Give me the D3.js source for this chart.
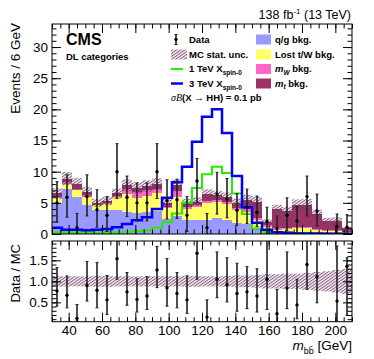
<!DOCTYPE html>
<html>
<head>
<meta charset="utf-8">
<script src="https://cdn.jsdelivr.net/npm/d3@7"></script>
<style>
  body { margin: 0; background: #fff; }
  svg { display: block; }
  text { font-family: "Liberation Sans", Arial, sans-serif; }
</style>
</head>
<body>
<div id="chart"></div>
<script>
// bins of m_bb (GeV), 6 GeV wide
const binLow = [30, 36, 42, 48, 54, 60, 66, 72, 78, 84, 90, 96, 102, 108, 114,
                120, 126, 132, 138, 144, 150, 156, 162, 168, 174, 180, 186, 192, 198, 204];
const binWidth = 6;

// stacked backgrounds
const qgBkg   = [5.0, 7.3, 5.9, 4.7, 3.9, 3.9, 3.8, 3.6, 3.4, 3.5, 3.7, 2.4, 2.9, 2.2, 2.3,
                 2.2, 2.5, 2.2, 1.8, 1.6, 1.0, 0.6, 0.3, 0.3, 0.3, 0.3, 0.2, 0.2, 0.2, 0.1];
const lostBkg = [0.8, 0.8, 1.1, 1.2, 0.7, 0.9, 2.1, 2.8, 2.4, 2.6, 2.8, 1.7, 3.0, 1.8, 2.0,
                 2.7, 2.6, 2.6, 2.0, 1.9, 1.2, 0.6, 0.4, 0.5, 0.6, 0.6, 0.4, 0.3, 0.3, 0.2];
const mwBkg   = [0.2, 0.2, 0.3, 0.3, 0.1, 0.1, 0.2, 0.8, 1.0, 0.9, 0.8, 0.3, 1.0, 0.4, 0.3,
                 0.4, 0.3, 0.3, 0.3, 0.5, 0.4, 0.2, 0.2, 0.2, 0.2, 0.2, 0.2, 0.1, 0.1, 0.1];
const mtBkg   = [0.5, 0.6, 0.7, 0.5, 0.3, 0.4, 0.4, 0.6, 0.6, 0.7, 0.7, 0.6, 0.9, 0.6, 0.6,
                 1.1, 0.8, 0.8, 0.9, 1.5, 2.6, 0.6, 3.1, 2.7, 3.6, 3.6, 2.4, 1.5, 1.5, 0.5];
// relative MC stat. uncertainty
const mcStatUnc = [0.13, 0.12, 0.12, 0.12, 0.13, 0.13, 0.12, 0.12, 0.12, 0.12, 0.12, 0.13, 0.12, 0.13, 0.13,
                   0.12, 0.12, 0.13, 0.14, 0.14, 0.15, 0.17, 0.17, 0.18, 0.18, 0.20, 0.22, 0.24, 0.27, 0.30];

// signals (sigma*B = 0.1 pb)
const sig1TeV = [0.25, 0.25, 0.25, 0.25, 0.25, 0.25, 0.25, 0.3, 0.45, 0.6, 1.0, 1.9, 3.3, 5.0, 7.4,
                 9.6, 10.8, 9.8, 6.5, 3.2, 0.9, 0.3, 0.2, 0.2, 0.15, 0.1, 0.1, 0.1, 0.1, 0.1];
const sig3TeV = [1.0, 0.7, 0.7, 0.6, 0.7, 0.8, 1.1, 1.6, 2.2, 2.7, 4.0, 5.8, 8.3, 10.8, 14.8,
                 18.8, 20.0, 16.2, 9.3, 4.3, 1.8, 0.7, 0.3, 0.2, 0.1, 0.1, 0.1, 0.05, 0.05, 0.05];

// data
const dataVal = [5.0, 5.9, 1.0, 6.0, 3.9, 3.0, 10.0, 5.9, 5.0, 5.0, 10.0, 5.4, 5.5, 3.0, 8.5,
                 1.0, 6.4, 5.6, 3.8, 4.3, 3.5, 2.0, 0.9, 3.0, 2.1, 6.0, 3.7, 0, 1.2, 1.1];
const dataErrHi = [3.4, 3.6, 2.3, 3.5, 3.2, 3.0, 4.5, 3.4, 3.2, 3.2, 4.5, 3.3, 3.3, 3.0, 3.6,
                   2.3, 3.5, 3.3, 2.7, 2.9, 2.6, 2.3, 2.0, 2.8, 2.3, 3.3, 2.7, 0, 2.0, 2.0];
const dataErrLo = [3.1, 3.2, 1.0, 3.1, 2.8, 2.6, 4.3, 3.1, 2.9, 2.9, 4.3, 3.0, 3.0, 2.6, 3.4,
                   1.0, 3.2, 3.0, 2.4, 2.6, 2.3, 1.9, 0.9, 2.5, 1.9, 3.1, 2.4, 0, 1.2, 1.1];

// ratio data / MC (null = not shown)
const ratioVal  = [0.77, 0.67, 0.12, 0.90, 0.79, 0.56, 1.54, 0.75, 0.57, 0.65, 1.27, 0.85, 0.71, 0.56, 1.67,
                   0.15, 1.05, 0.92, 0.71, 0.75, 0.65, 1.05, 0.23, 0.84, 0.44, 1.40, 1.11, null, 0.53, 1.36];
const ratioHiEnd = [1.33, 1.13, 0.45, 1.47, 1.45, 1.14, 2.3, 1.21, 1.06, 1.11, 1.83, 1.54, 1.21, 1.13, 2.3,
                    0.56, 1.70, 1.56, 1.43, 1.35, 1.30, 2.3, 0.81, 1.70, 1.05, 2.3, 2.3, null, 1.84, 1.56];
const ratioLoEnd = [0.41, 0.37, 0.06, 0.53, 0.37, 0.21, 1.05, 0.43, 0.27, 0.33, 0.85, 0.41, 0.37, 0.24, 1.05,
                    0.0, 0.61, 0.51, 0.29, 0.35, 0.27, 0.33, 0.0, 0.35, 0.11, 0.81, 0.49, null, 0.0, 0.19];

const mainTicks = [0, 5, 10, 15, 20, 25, 30];
const ratioTicks = [0.5, 1, 1.5];
const xTicks = [40, 60, 80, 100, 120, 140, 160, 180, 200];

const colors = { qg: "#9999ff", lost: "#ffff66", mw: "#ff66cc", mt: "#993366",
                 hatch: "#6e3565", sig1: "#22ee00", sig3: "#0000ff" };

const width = 374, height = 359;
const left = 52, right = 352, mainTop = 24, mainBottom = 234, ratioTop = 241, ratioBottom = 321.7;

const x = d3.scaleLinear().domain([30, 210]).range([left, right]);
const y = d3.scaleLinear().domain([0, 33.7]).range([mainBottom, mainTop]);
const yr = d3.scaleLinear().domain([0.04, 1.96]).range([ratioBottom, ratioTop]);

const svg = d3.select("#chart").append("svg")
    .attr("width", width).attr("height", height);

const defs = svg.append("defs");
const pat = defs.append("pattern")
    .attr("id", "hatch").attr("patternUnits", "userSpaceOnUse")
    .attr("width", 2.4).attr("height", 2.4)
    .attr("patternTransform", "rotate(-35)");
pat.append("line").attr("x1", 0).attr("y1", 0.6).attr("x2", 2.4).attr("y2", 0.6)
    .attr("stroke", colors.hatch).attr("stroke-width", 0.9);

defs.append("clipPath").attr("id", "clipMain").append("rect")
    .attr("x", left).attr("y", mainTop).attr("width", right - left).attr("height", mainBottom - mainTop);
defs.append("clipPath").attr("id", "clipRatio").append("rect")
    .attr("x", left).attr("y", ratioTop).attr("width", right - left).attr("height", ratioBottom - ratioTop);

const bins = binLow.map((lo, i) => {
  const parts = [qgBkg[i], lostBkg[i], mwBkg[i], mtBkg[i]];
  return { lo: lo, hi: lo + binWidth, c: lo + binWidth / 2, parts: parts, total: d3.sum(parts) };
});

// ---- main panel ----
const gMain = svg.append("g").attr("clip-path", "url(#clipMain)");
const stackColors = [colors.qg, colors.lost, colors.mw, colors.mt];

bins.forEach(b => {
  let base = 0;
  b.parts.forEach((v, k) => {
    gMain.append("rect")
        .attr("x", x(b.lo)).attr("width", x(b.hi) - x(b.lo))
        .attr("y", y(base + v)).attr("height", y(base) - y(base + v))
        .attr("fill", stackColors[k]).attr("shape-rendering", "crispEdges");
    base += v;
  });
});

// MC stat. unc. band
bins.forEach((b, i) => {
  const u = mcStatUnc[i] * b.total;
  gMain.append("rect")
      .attr("x", x(b.lo)).attr("width", x(b.hi) - x(b.lo))
      .attr("y", y(b.total + u)).attr("height", y(b.total - u) - y(b.total + u))
      .attr("fill", "url(#hatch)");
});

// signal step lines
function stepPoints(vals) {
  const pts = [];
  bins.forEach((b, i) => { pts.push([x(b.lo), y(vals[i])]); pts.push([x(b.hi), y(vals[i])]); });
  return pts;
}
gMain.append("path").datum(stepPoints(sig1TeV))
    .attr("d", d3.line()).attr("fill", "none")
    .attr("stroke", colors.sig1).attr("stroke-width", 2);
gMain.append("path").datum(stepPoints(sig3TeV))
    .attr("d", d3.line()).attr("fill", "none")
    .attr("stroke", colors.sig3).attr("stroke-width", 2.5);

// data points
function drawPoint(g, cx, cy, top, bottom) {
  g.append("line").attr("x1", cx).attr("x2", cx).attr("y1", top).attr("y2", bottom)
      .attr("stroke", "#222").attr("stroke-width", 1.6);
  [top, bottom].forEach(yy => g.append("line")
      .attr("x1", cx - 1.5).attr("x2", cx + 1.5).attr("y1", yy).attr("y2", yy)
      .attr("stroke", "#222").attr("stroke-width", 1));
  g.append("circle").attr("cx", cx).attr("cy", cy).attr("r", 1.7).attr("fill", "#000");
}
bins.forEach((b, i) => {
  const v = dataVal[i];
  if (dataErrHi[i] === 0) {
    gMain.append("circle").attr("cx", x(b.c)).attr("cy", y(v)).attr("r", 1.7).attr("fill", "#000");
  } else {
    drawPoint(gMain, x(b.c), y(v), y(v + dataErrHi[i]), y(v - dataErrLo[i]));
  }
});

// ---- ratio panel ----
const gRatio = svg.append("g").attr("clip-path", "url(#clipRatio)");
bins.forEach((b, i) => {
  gRatio.append("rect")
      .attr("x", x(b.lo)).attr("width", x(b.hi) - x(b.lo))
      .attr("y", yr(1 + mcStatUnc[i])).attr("height", yr(1 - mcStatUnc[i]) - yr(1 + mcStatUnc[i]))
      .attr("fill", "url(#hatch)");
});
bins.forEach((b, i) => {
  if (ratioVal[i] === null) return;
  drawPoint(gRatio, x(b.c), yr(ratioVal[i]), yr(ratioHiEnd[i]), yr(ratioLoEnd[i]));
});

// ---- axes (ROOT style: ticks inside, on all sides) ----
function frameAxes(yScale, top, bottom, majorY, minorY, labelsX, majLenY, minLenY) {
  const g = svg.append("g");
  g.append("rect").attr("x", left).attr("y", top).attr("width", right - left).attr("height", bottom - top)
      .attr("fill", "none").attr("stroke", "#000").attr("stroke-width", 1);

  const minorX = d3.range(30, 211, 5);
  // bottom
  g.append("g").attr("transform", `translate(0,${bottom})`)
      .call(d3.axisBottom(x).tickValues(xTicks).tickSize(-9).tickPadding(4)
          .tickFormat(labelsX ? d3.format("d") : ""));
  g.append("g").attr("transform", `translate(0,${bottom})`)
      .call(d3.axisBottom(x).tickValues(minorX).tickSize(-4.5).tickFormat(""));
  // top
  g.append("g").attr("transform", `translate(0,${top})`)
      .call(d3.axisTop(x).tickValues(xTicks).tickSize(-9).tickFormat(""));
  g.append("g").attr("transform", `translate(0,${top})`)
      .call(d3.axisTop(x).tickValues(minorX).tickSize(-4.5).tickFormat(""));
  // left
  g.append("g").attr("transform", `translate(${left},0)`)
      .call(d3.axisLeft(yScale).tickValues(majorY).tickSize(-majLenY).tickPadding(4));
  g.append("g").attr("transform", `translate(${left},0)`)
      .call(d3.axisLeft(yScale).tickValues(minorY).tickSize(-minLenY).tickFormat(""));
  // right
  g.append("g").attr("transform", `translate(${right},0)`)
      .call(d3.axisRight(yScale).tickValues(majorY).tickSize(-majLenY).tickFormat(""));
  g.append("g").attr("transform", `translate(${right},0)`)
      .call(d3.axisRight(yScale).tickValues(minorY).tickSize(-minLenY).tickFormat(""));

  g.selectAll(".domain").remove();
  g.selectAll(".tick line").attr("stroke", "#000");
  g.selectAll(".tick text").attr("fill", "#000").style("font-size", "13.5px")
      .style("font-family", "'Liberation Sans', Arial, sans-serif");
  return g;
}
frameAxes(y, mainTop, mainBottom, mainTicks, d3.range(0, 34, 1), false, 9, 4.5);
frameAxes(yr, ratioTop, ratioBottom, ratioTicks, d3.range(0.1, 1.95, 0.1), true, 9, 4.5);

// ---- titles ----
svg.append("text")
    .attr("transform", `translate(20,23) rotate(-90)`)
    .attr("text-anchor", "end").style("font-size", "13.5px")
    .text("Events / 6 GeV");
svg.append("text")
    .attr("transform", `translate(20,244) rotate(-90)`)
    .attr("text-anchor", "end").style("font-size", "13px")
    .text("Data / MC");

const xt = svg.append("text").attr("x", right).attr("y", 350)
    .attr("text-anchor", "end").style("font-size", "13.5px");
xt.append("tspan").style("font-style", "italic").text("m");
xt.append("tspan").attr("dy", 3.5).style("font-size", "9px").text("b\u0062\u0304");
xt.append("tspan").attr("dy", -3.5).text(" [GeV]");

const lumi = svg.append("text").attr("x", 351).attr("y", 19)
    .attr("text-anchor", "end").style("font-size", "12.5px");
lumi.append("tspan").text("138 fb");
lumi.append("tspan").attr("dy", -5).style("font-size", "8px").text("-1");
lumi.append("tspan").attr("dy", 5).text(" (13 TeV)");

svg.append("text").attr("x", 66).attr("y", 45)
    .style("font-size", "16px").style("font-weight", "bold").text("CMS");
svg.append("text").attr("x", 66).attr("y", 60)
    .style("font-size", "9.5px").style("font-weight", "bold").text("DL categories");

// ---- legend ----
const leg = svg.append("g").style("font-size", "9.5px").style("font-weight", "bold");
const rowY = [39.5, 54.5, 69, 83.5];

// Data
drawPoint(leg, 176, rowY[0], rowY[0] - 5, rowY[0] + 5);
leg.append("text").attr("x", 189).attr("y", rowY[0] + 3.4).text("Data");
// MC stat unc
leg.append("rect").attr("x", 171).attr("y", rowY[1] - 5).attr("width", 16).attr("height", 10)
    .attr("fill", "url(#hatch)");
leg.append("text").attr("x", 189).attr("y", rowY[1] + 3.4).text("MC stat. unc.");
// signals
[[colors.sig1, 2, "1 TeV X"], [colors.sig3, 2.5, "3 TeV X"]].forEach((s, k) => {
  const yy = rowY[2 + k];
  leg.append("line").attr("x1", 171).attr("x2", 183).attr("y1", yy).attr("y2", yy)
      .attr("stroke", s[0]).attr("stroke-width", s[1]);
  const t = leg.append("text").attr("x", 189).attr("y", yy + 3.4);
  t.append("tspan").text(s[2]);
  t.append("tspan").attr("dy", 3).style("font-size", "6.5px").text("spin-0");
});
const sb = leg.append("text").attr("x", 171).attr("y", 101);
sb.append("tspan").style("font-family", "'Liberation Serif', serif").style("font-style", "italic")
    .style("font-weight", "normal").style("font-size", "10px").text("\u03c3B");
sb.append("tspan").text("(X \u2192 HH) = 0.1 pb");

// backgrounds column
const bkgLegend = [[colors.qg, "q/g bkg.", null], [colors.lost, "Lost t/W bkg.", null],
                   [colors.mw, "m", "W"], [colors.mt, "m", "t"]];
bkgLegend.forEach((e, k) => {
  const yy = rowY[k];
  leg.append("rect").attr("x", 256).attr("y", yy - 5).attr("width", 15).attr("height", 10)
      .attr("fill", e[0]);
  const t = leg.append("text").attr("x", 275).attr("y", yy + 3.4);
  if (e[2] === null) {
    t.text(e[1]);
  } else {
    t.append("tspan").style("font-style", "italic").text(e[1]);
    t.append("tspan").attr("dy", 2.5).style("font-size", "6.5px").style("font-style", "italic").text(e[2]);
    t.append("tspan").attr("dy", -2.5).text(" bkg.");
  }
});
</script>
</body>
</html>
